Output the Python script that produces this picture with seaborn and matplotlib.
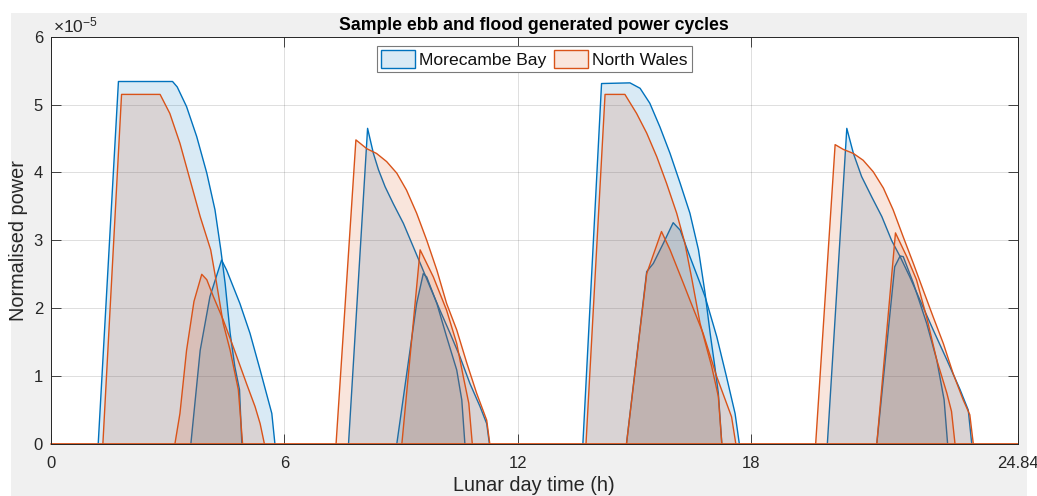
import numpy as np
import matplotlib
matplotlib.use("Agg")
import matplotlib.pyplot as plt
import seaborn as sns
from matplotlib.patches import Patch, Rectangle
from matplotlib.colors import to_rgba

# ---------------- data (power in units of 1e-5) ----------------
SCALE = 1e-5
SERIES = ["Morecambe Bay", "North Wales"]

# Morecambe Bay humps
mb1_t = [1.22, 1.74, 3.13, 3.25, 3.49, 3.75, 4.01, 4.22, 4.37, 4.48, 4.61, 4.73, 4.85, 4.91]
mb1_p = [0, 5.34, 5.34, 5.26, 4.97, 4.53, 3.99, 3.45, 2.86, 2.37, 1.63, 1.14, 0.80, 0]
mb1s_t = [3.60, 3.84, 4.09, 4.39, 4.52, 4.86, 5.12, 5.38, 5.68, 5.76]
mb1s_p = [0, 1.38, 2.17, 2.71, 2.56, 2.07, 1.63, 1.09, 0.45, 0]
mb2_t = [7.65, 8.14, 8.29, 8.42, 8.59, 8.80, 9.06, 9.31, 9.53, 9.74, 10.00, 10.26, 10.51, 10.77, 11.03, 11.20, 11.27]
mb2_p = [0, 4.65, 4.28, 4.04, 3.79, 3.54, 3.25, 2.91, 2.61, 2.32, 1.97, 1.63, 1.29, 0.89, 0.55, 0.30, 0]
mb2s_t = [8.89, 9.40, 9.57, 9.66, 9.92, 10.17, 10.43, 10.56, 10.64]
mb2s_p = [0, 2.07, 2.51, 2.46, 2.07, 1.58, 1.09, 0.65, 0]
mb3_t = [13.67, 14.15, 14.88, 15.14, 15.39, 15.65, 15.91, 16.17, 16.42, 16.64, 16.81, 16.94, 17.06, 17.15, 17.24]
mb3_p = [0, 5.31, 5.32, 5.24, 5.02, 4.67, 4.28, 3.84, 3.40, 2.86, 2.22, 1.63, 1.14, 0.75, 0]
mb3s_t = [14.79, 15.31, 15.48, 15.74, 15.99, 16.17, 16.42, 16.68, 16.81, 17.11, 17.36, 17.58, 17.69]
mb3s_p = [0, 2.54, 2.66, 2.96, 3.26, 3.15, 2.76, 2.37, 2.17, 1.58, 0.99, 0.45, 0]
mb4_t = [19.95, 20.45, 20.62, 20.83, 21.09, 21.35, 21.60, 21.82, 22.07, 22.33, 22.67, 23.02, 23.36, 23.57, 23.66]
mb4_p = [0, 4.65, 4.28, 3.94, 3.64, 3.35, 3.00, 2.76, 2.46, 2.12, 1.68, 1.24, 0.80, 0.50, 0]
mb4s_t = [21.22, 21.68, 21.82, 21.90, 22.16, 22.50, 22.76, 22.95, 23.04]
mb4s_p = [0, 2.61, 2.77, 2.76, 2.37, 1.78, 1.24, 0.65, 0]

# North Wales humps
nw1_t = [1.34, 1.82, 2.81, 3.06, 3.32, 3.58, 3.84, 4.11, 4.26, 4.43, 4.61, 4.82, 4.93]
nw1_p = [0, 5.15, 5.15, 4.87, 4.43, 3.89, 3.35, 2.86, 2.37, 1.78, 1.38, 0.80, 0]
nw1s_t = [3.19, 3.32, 3.49, 3.68, 3.88, 4.01, 4.18, 4.43, 4.69, 5.03, 5.25, 5.38, 5.49]
nw1s_p = [0, 0.45, 1.38, 2.10, 2.50, 2.42, 2.17, 1.83, 1.43, 0.89, 0.55, 0.30, 0]
nw2_t = [7.33, 7.84, 8.12, 8.37, 8.63, 8.89, 9.14, 9.40, 9.66, 9.92, 10.17, 10.43, 10.69, 10.94, 11.20, 11.28]
nw2_p = [0, 4.48, 4.35, 4.28, 4.16, 3.99, 3.74, 3.40, 3.00, 2.56, 2.07, 1.68, 1.19, 0.75, 0.35, 0]
nw2s_t = [9.02, 9.49, 9.83, 10.17, 10.43, 10.60, 10.74, 10.83]
nw2s_p = [0, 2.86, 2.46, 1.97, 1.48, 0.99, 0.60, 0]
nw3_t = [13.75, 14.24, 14.75, 15.05, 15.31, 15.57, 15.82, 16.08, 16.29, 16.48, 16.68, 16.98, 17.15, 17.24]
nw3_p = [0, 5.15, 5.15, 4.87, 4.58, 4.23, 3.84, 3.40, 2.96, 2.40, 1.78, 1.14, 0.70, 0]
nw3s_t = [14.79, 15.31, 15.69, 15.91, 16.25, 16.42, 16.76, 17.11, 17.49, 17.60]
nw3s_p = [0, 2.51, 3.13, 2.86, 2.37, 2.12, 1.63, 0.99, 0.40, 0]
nw4_t = [19.65, 20.15, 20.36, 20.62, 20.87, 21.13, 21.39, 21.64, 21.90, 22.16, 22.41, 22.67, 22.93, 23.18, 23.44, 23.61, 23.70]
nw4_p = [0, 4.41, 4.34, 4.28, 4.18, 4.01, 3.77, 3.45, 3.05, 2.66, 2.27, 1.87, 1.48, 1.04, 0.65, 0.43, 0]
nw4s_t = [21.22, 21.70, 21.99, 22.24, 22.50, 22.76, 23.02, 23.14, 23.23]
nw4s_p = [0, 3.11, 2.76, 2.42, 1.87, 1.24, 0.75, 0.48, 0]

XTICKS = [0, 6, 12, 18, 24.84]
XTICK_LABELS = ["0", "6", "12", "18", "24.84"]
YTICKS = [0, 1, 2, 3, 4, 5, 6]
YTICK_LABELS = ["0", "1", "2", "3", "4", "5", "6"]

# ---------------- style ----------------
sns.set_style("white")
plt.rcParams['font.family'] = ['Liberation Sans', 'DejaVu Sans']
MB_C = '#0072BD'
NW_C = '#D95319'
TXT = '#262626'
FA = 0.15

W_PX, H_PX = 1037, 496
fig = plt.figure(figsize=(W_PX / 100, H_PX / 100), dpi=100, facecolor='white')
fig.add_artist(Rectangle((11 / W_PX, 0), 1016 / W_PX, 483 / H_PX,
                         transform=fig.transFigure, facecolor='#F0F0F0',
                         edgecolor='none', zorder=-10))

ax_l, ax_r, ax_t, ax_b = 50.7, 1017.7, 36.7, 444.0
ax = fig.add_axes([ax_l / W_PX, 1 - ax_b / H_PX, (ax_r - ax_l) / W_PX, (ax_b - ax_t) / H_PX])
ax.set_facecolor('white')

groups = [
    (MB_C, [(mb1_t, mb1_p), (mb1s_t, mb1s_p), (mb2_t, mb2_p), (mb2s_t, mb2s_p),
            (mb3_t, mb3_p), (mb3s_t, mb3s_p), (mb4_t, mb4_p), (mb4s_t, mb4s_p)]),
    (NW_C, [(nw1_t, nw1_p), (nw1s_t, nw1s_p), (nw2_t, nw2_p), (nw2s_t, nw2s_p),
            (nw3_t, nw3_p), (nw3s_t, nw3s_p), (nw4_t, nw4_p), (nw4s_t, nw4s_p)]),
]
z = 2
for color, humps in groups:
    for t, p in humps:
        y = np.asarray(p, dtype=float) * SCALE
        ax.fill_between(t, y, 0, facecolor=to_rgba(color, FA), edgecolor='none', lw=0, zorder=z)
        sns.lineplot(x=t, y=y, ax=ax, color=color, lw=1.0, sort=False,
                     estimator=None, legend=False, zorder=z + 0.5)
        z += 1
ax.axhline(0, color=NW_C, lw=1.3, zorder=z + 1, clip_on=False)

ax.set_xlim(XTICKS[0], XTICKS[-1])
ax.set_ylim(0, YTICKS[-1] * SCALE)
ax.set_xticks(XTICKS)
ax.set_xticklabels(XTICK_LABELS)
ax.set_yticks([v * SCALE for v in YTICKS])
ax.set_yticklabels(YTICK_LABELS)

ax.grid(True, color=TXT, alpha=0.15, lw=0.7)
ax.set_axisbelow(True)
for s in ax.spines.values():
    s.set_visible(True)
    s.set_color(TXT)
    s.set_linewidth(0.7)
    s.set_zorder(z + 2)
ax.tick_params(axis='both', which='both', direction='in', length=7, width=0.6,
               color=TXT, labelcolor=TXT, labelsize=12, top=True, right=True,
               bottom=True, left=True)
ax.tick_params(axis='x', pad=8.5)
ax.tick_params(axis='y', pad=5.5)

ax.text(0.002, 1 + 4.5 / (ax_b - ax_t), r'$\mathregular{\times10^{-5}}$', transform=ax.transAxes,
        ha='left', va='baseline', fontsize=12.5, color=TXT)

ax.set_title("Sample ebb and flood generated power cycles", fontsize=12.7,
             fontweight='bold', pad=5, color='black')
ax.set_xlabel("Lunar day time (h)", fontsize=14.3, color=TXT, labelpad=3.5)
ax.set_ylabel("Normalised power", fontsize=14.3, color=TXT, labelpad=4)

handles = [Patch(facecolor=to_rgba(MB_C, FA), edgecolor=MB_C, lw=1.0),
           Patch(facecolor=to_rgba(NW_C, FA), edgecolor=NW_C, lw=1.0)]
leg = ax.legend(handles, SERIES, loc='upper center',
                bbox_to_anchor=(0.5, 1 - 9.3 / (ax_b - ax_t)), ncol=2, fontsize=12.6,
                frameon=True, fancybox=False, framealpha=1, edgecolor='#7a7a7a',
                borderpad=0.25, handlelength=1.95, handleheight=1.15,
                handletextpad=0.2, columnspacing=0.45, borderaxespad=0)
leg.get_frame().set_linewidth(0.8)
leg.set_zorder(z + 5)
for txt in leg.get_texts():
    txt.set_color('#111111')

fig.savefig("out.png", dpi=100, facecolor=fig.get_facecolor())
